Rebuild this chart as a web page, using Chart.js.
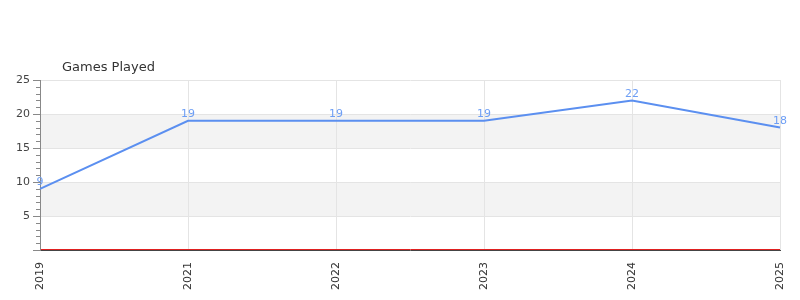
<!DOCTYPE html>
<html>
<head>
<meta charset="utf-8">
<script src="https://cdn.jsdelivr.net/npm/chart.js@4"></script>
<style>
  html, body { margin: 0; padding: 0; background: #fff; }
  #wrap { width: 800px; height: 300px; }
</style>
</head>
<body>
<div id="wrap"><canvas id="games"></canvas></div>
<script>
// chart values
const seasons = ['2019', '2021', '2022', '2023', '2024', '2025'];
const gamesPlayed = [9, 19, 19, 19, 22, 18];
const yTicks = [0, 5, 10, 15, 20, 25];
const shadedBands = [[5, 10], [15, 20]];
const chartTitle = 'Games Played';

const FONT = "'DejaVu Sans', sans-serif";

// alternating bands behind the grid
const bandsPlugin = {
    id: 'bands',
    beforeDraw(chart) {
        const { ctx, chartArea: a, scales: { y } } = chart;
        ctx.save();
        ctx.fillStyle = '#f3f3f3';
        shadedBands.forEach(([lo, hi]) => {
            const top = y.getPixelForValue(hi);
            const bot = y.getPixelForValue(lo);
            ctx.fillRect(a.left, top, a.right - a.left, bot - top);
        });
        ctx.restore();
    }
};

// title, minor ticks, zero line, point labels
const extrasPlugin = {
    id: 'extras',
    afterDraw(chart) {
        const { ctx, chartArea: a, scales: { y } } = chart;
        ctx.save();
        ctx.font = '13px ' + FONT;
        ctx.fillStyle = '#333';
        ctx.textBaseline = 'middle';
        ctx.textAlign = 'left';
        ctx.fillText(chartTitle, a.left + 22, 67.5);

        // minor ticks every unit
        ctx.strokeStyle = '#888';
        ctx.lineWidth = 1;
        for (let v = 1; v < 25; v++) {
            if (v % 5 === 0) continue;
            const py = Math.round(y.getPixelForValue(v)) + 0.5;
            ctx.beginPath();
            ctx.moveTo(a.left - 4, py);
            ctx.lineTo(a.left, py);
            ctx.stroke();
        }

        // red zero line just above the axis
        const zy = Math.round(y.getPixelForValue(0)) - 0.5;
        ctx.strokeStyle = '#e02020';
        ctx.beginPath();
        ctx.moveTo(a.left + 1, zy);
        ctx.lineTo(a.right, zy);
        ctx.stroke();

        // value labels
        const meta = chart.getDatasetMeta(0);
        ctx.font = '11px ' + FONT;
        ctx.fillStyle = '#6d9ef5';
        ctx.textAlign = 'center';
        ctx.textBaseline = 'bottom';
        meta.data.forEach((pt, i) => {
            ctx.fillText(String(gamesPlayed[i]), pt.x, pt.y - 1);
        });
        ctx.restore();
    }
};

new Chart(document.getElementById('games'), {
    type: 'line',
    data: {
        labels: seasons,
        datasets: [{
            label: chartTitle,
            data: gamesPlayed,
            borderColor: '#5b8ff0',
            borderWidth: 2,
            pointRadius: 0,
            tension: 0,
            fill: false
        }]
    },
    options: {
        responsive: true,
        maintainAspectRatio: false,
        animation: false,
        layout: { padding: { top: 80, right: 20, left: 0, bottom: 0 } },
        plugins: {
            legend: { display: false },
            tooltip: { enabled: false },
            title: { display: false }
        },
        scales: {
            x: {
                type: 'category',
                offset: false,
                grid: { color: '#e4e4e4', drawTicks: false },
                border: { color: '#444', width: 1 },
                ticks: {
                    minRotation: 90,
                    maxRotation: 90,
                    padding: 12,
                    color: '#333',
                    font: { family: FONT, size: 11 }
                },
                afterFit(scale) {
                    scale.height = 50;
                    scale.paddingLeft = 0;
                    scale.paddingRight = 0;
                }
            },
            y: {
                min: 0,
                max: 25,
                afterBuildTicks(scale) {
                    scale.ticks = yTicks.map(v => ({ value: v }));
                },
                grid: { color: '#e4e4e4', tickColor: '#888', tickLength: 7 },
                border: { color: '#888', width: 1 },
                ticks: {
                    padding: 3,
                    color: '#444',
                    font: { family: FONT, size: 11 },
                    callback: v => (v === 0 ? '' : String(v))
                },
                afterFit(scale) { scale.width = 40; }
            }
        }
    },
    plugins: [bandsPlugin, extrasPlugin]
});
</script>
</body>
</html>
